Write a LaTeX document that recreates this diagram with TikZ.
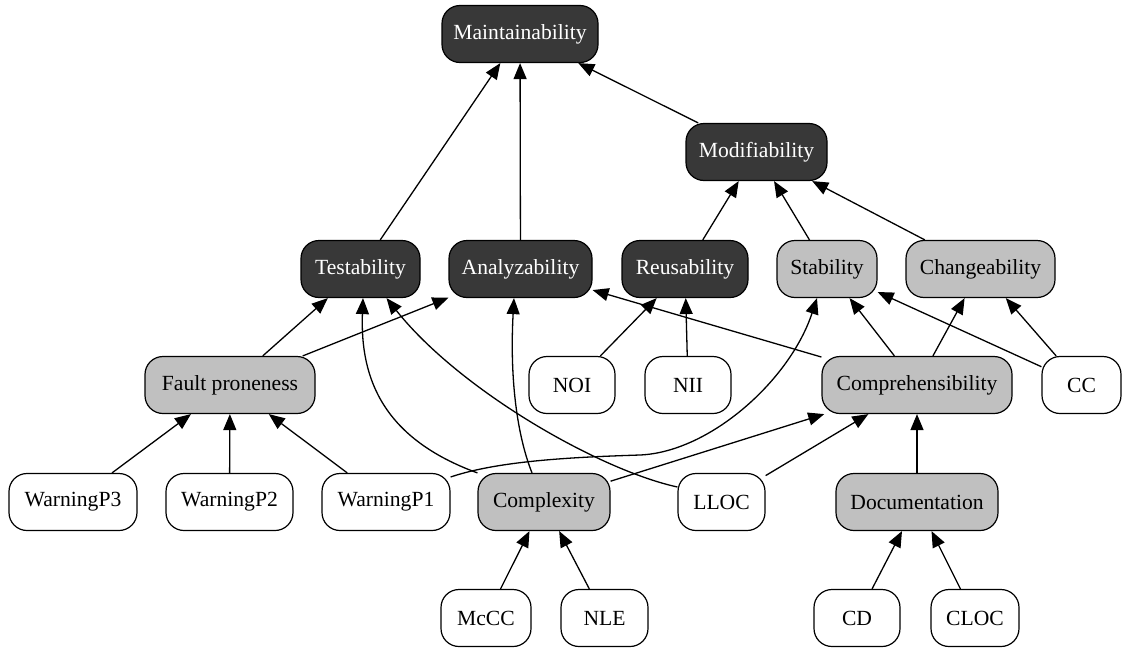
\documentclass[tikz,border=0pt]{standalone}
\usepackage{fontspec}
\setmainfont{Liberation Serif}
\usetikzlibrary{arrows.meta,calc}
\definecolor{darkfill}{HTML}{383838}
\definecolor{grayfill}{HTML}{C0C0C0}
\begin{document}
\begin{tikzpicture}[x=1pt,y=-1pt,
  box/.style={draw=black, line width=1.2pt, rounded corners=18pt, minimum height=57pt, inner sep=0pt, font=\fontsize{21.6}{24}\selectfont},
  darkbox/.style={box, fill=darkfill, text=white},
  graybox/.style={box, fill=grayfill, text=black},
  whitebox/.style={box, fill=white, text=black},
  edge/.style={-{Triangle[length=16pt,width=13pt]}, line width=1.3pt}]
\useasboundingbox (0,0) rectangle (1122,648);
% level 0
\node[darkbox, minimum width=156pt] (maint) at (520,34) {Maintainability};
% level 1
\node[darkbox, minimum width=141pt] (modif) at (756.5,152) {Modifiability};
% level 2
\node[darkbox, minimum width=119pt] (test) at (360.5,269) {Testability};
\node[darkbox, minimum width=143pt] (anal) at (520.5,269) {Analyzability};
\node[darkbox, minimum width=126pt] (reus) at (685,269) {Reusability};
\node[graybox, minimum width=100pt] (stab) at (827,269) {Stability};
\node[graybox, minimum width=149pt] (chg) at (980.5,269) {Changeability};
% level 3
\node[graybox, minimum width=170pt] (fault) at (230,385) {Fault proneness};
\node[whitebox, minimum width=86pt] (noi) at (572,385) {NOI};
\node[whitebox, minimum width=86pt] (nii) at (688,385) {NII};
\node[graybox, minimum width=190pt] (comp) at (917,385) {Comprehensibility};
\node[whitebox, minimum width=79pt] (cc) at (1081.5,385) {CC};
% level 4
\node[whitebox, minimum width=128pt] (wp3) at (73,502) {WarningP3};
\node[whitebox, minimum width=127pt] (wp2) at (229.5,502) {WarningP2};
\node[whitebox, minimum width=128pt] (wp1) at (386,502) {WarningP1};
\node[graybox, minimum width=132pt] (cplx) at (544,502) {Complexity};
\node[whitebox, minimum width=87pt] (lloc) at (721.5,502) {LLOC};
\node[graybox, minimum width=162pt] (doc) at (917,502) {Documentation};
% level 5
\node[whitebox, minimum width=90pt] (mccc) at (486,618) {McCC};
\node[whitebox, minimum width=87pt] (nle) at (604.5,618) {NLE};
\node[whitebox, minimum width=86pt] (cd) at (857,618) {CD};
\node[whitebox, minimum width=88pt] (cloc) at (975,618) {CLOC};
% straight edges
\draw[edge] (test) -- (maint);
\draw[edge] (anal) -- (maint);
\draw[edge] (modif) -- (maint);
\draw[edge] (reus) -- (modif);
\draw[edge] (stab) -- (modif);
\draw[edge] (chg) -- (modif);
\draw[edge] (fault) -- (test);
\draw[edge] (fault) -- (anal);
\draw[edge] (comp) -- (anal);
\draw[edge] (noi) -- (reus);
\draw[edge] (nii) -- (reus);
\draw[edge] (comp) -- (stab);
\draw[edge] (comp) -- (chg);
\draw[edge] (cc) -- (stab);
\draw[edge] (cc) -- (chg);
\draw[edge] (wp3) -- (fault);
\draw[edge] (wp2) -- (fault);
\draw[edge] (wp1) -- (fault);
\draw[edge] (cplx) -- (comp);
\draw[edge] (lloc) -- (comp);
\draw[edge] (doc) -- (comp);
\draw[edge] (mccc) -- (cplx);
\draw[edge] (nle) -- (cplx);
\draw[edge] (cd) -- (doc);
\draw[edge] (cloc) -- (doc);
% curved edges
\draw[edge] (cplx.north west) .. controls +(-93,-34) and +(-3,82) .. ($(test.south)+(2.5,0)$);
\draw[edge] ($(cplx.north)+(-12,0)$) .. controls +(-17,-43) and +(-4,72) .. ($(anal.south)+(-6.5,0)$);
\draw[edge] ($(lloc.west)+(0,-15)$) .. controls +(-78,-17) and +(73.5,92.5) .. ($(test.south)+(26,0)$);
\draw[edge] ($(wp1.east)+(0,-25)$) .. controls +(50,-17) and +(-60,2) .. (640,455)
  .. controls +(70,-3) and +(-27,82) .. ($(stab.south)+(-10,0)$);
\end{tikzpicture}
\end{document}
